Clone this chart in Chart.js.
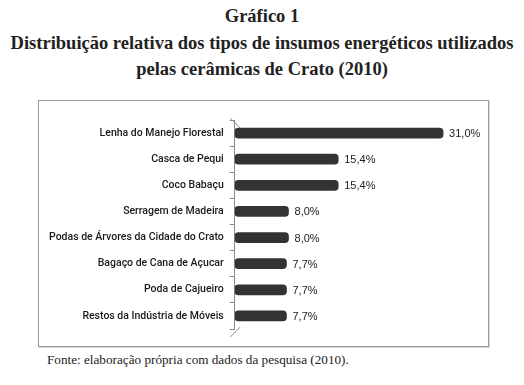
<!DOCTYPE html>
<html><head><meta charset="utf-8">
<script src="https://cdn.jsdelivr.net/npm/chart.js@4.4.1/dist/chart.umd.min.js"></script>
<style>
html,body{margin:0;padding:0;background:#fff;width:524px;height:385px;overflow:hidden;}
#t{position:absolute;left:0;width:524px;text-align:center;font-family:"Liberation Serif",serif;font-weight:bold;color:#222;font-size:18.5px;line-height:26.5px;top:3px;}
#box{position:absolute;left:38px;top:100px;width:449px;height:245px;border:1px solid #9a9a9a;box-shadow:1px 1px 0 #d8d8d8;}
#wrap{position:absolute;left:0;top:0;width:449px;height:245px;}
#src{position:absolute;left:47px;top:352px;font-family:"Liberation Serif",serif;font-size:13.2px;color:#222;}
</style></head>
<body>
<div id="t">Gráfico 1<br>Distribuição relativa dos tipos de insumos energéticos utilizados<br>pelas cerâmicas de Crato (2010)</div>
<div id="box"><div id="wrap"><canvas id="c"></canvas></div></div>
<div id="src">Fonte: elaboração própria com dados da pesquisa (2010).</div>
<script>
const categories = ["Lenha do Manejo Florestal","Casca de Pequi","Coco Babaçu","Serragem de Madeira","Podas de Árvores da Cidade do Crato","Bagaço de Cana de Açucar","Poda de Cajueiro","Restos da Indústria de Móveis"];
const values = [31.0, 15.4, 15.4, 8.0, 8.0, 7.7, 7.7, 7.7];

function barGradient(ctx){
  const el = ctx.element;
  const chart = ctx.chart;
  if(!el || el.y === undefined) return '#333';
  const h = 5;
  const g = chart.ctx.createLinearGradient(0, el.y - h, 0, el.y + h);
  g.addColorStop(0, '#1e1e1e');
  g.addColorStop(0.3, '#5a5a5a');
  g.addColorStop(0.5, '#3c3c3c');
  g.addColorStop(1, '#151515');
  return g;
}

const valueLabels = {
  id:'valueLabels',
  afterDatasetsDraw(chart){
    const c = chart.ctx;
    const meta = chart.getDatasetMeta(0);
    c.save();
    c.font = '11px "Liberation Sans", sans-serif';
    c.fillStyle = '#222';
    c.textBaseline = 'middle';
    c.textAlign = 'left';
    meta.data.forEach((b,i)=>{
      c.fillText(values[i].toFixed(1).replace('.',',') + '%', b.x + 6, b.y + 1);
    });
    c.restore();
  }
};
const wall = {
  id:'wall',
  beforeDatasetsDraw(chart){
    const a = chart.chartArea, c = chart.ctx;
    c.save();
    c.strokeStyle = '#8a8a8a';
    c.lineWidth = 1;
    c.beginPath();
    c.moveTo(a.left - 4.5, a.top - 2); c.lineTo(a.left + 5.5, a.top + 8);
    c.moveTo(a.left - 4.5, a.bottom + 8); c.lineTo(a.left + 5.5, a.bottom - 2);
    c.stroke();
    c.restore();
  }
};

new Chart(document.getElementById('c'), {
  type:'bar',
  data:{labels:categories, datasets:[{data:values, backgroundColor:barGradient, barThickness:10, borderRadius:4, borderSkipped:false}]},
  options:{
    indexAxis:'y', responsive:true, maintainAspectRatio:false, animation:false,
    layout:{padding:{top:19,bottom:17,right:18,left:4}},
    plugins:{legend:{display:false}, tooltip:{enabled:false}},
    scales:{
      x:{display:false, min:0, max:35},
      y:{
        grid:{drawOnChartArea:false, drawTicks:true, tickLength:5, color:'#8a8a8a', offset:true},
        border:{display:true, color:'#8a8a8a'},
        ticks:{color:'#1a1a1a', font:{family:'Roboto, sans-serif', size:10.5, weight:'500'}, padding:6}
      }
    }
  },
  plugins:[valueLabels, wall]
});
</script>
</body></html>
